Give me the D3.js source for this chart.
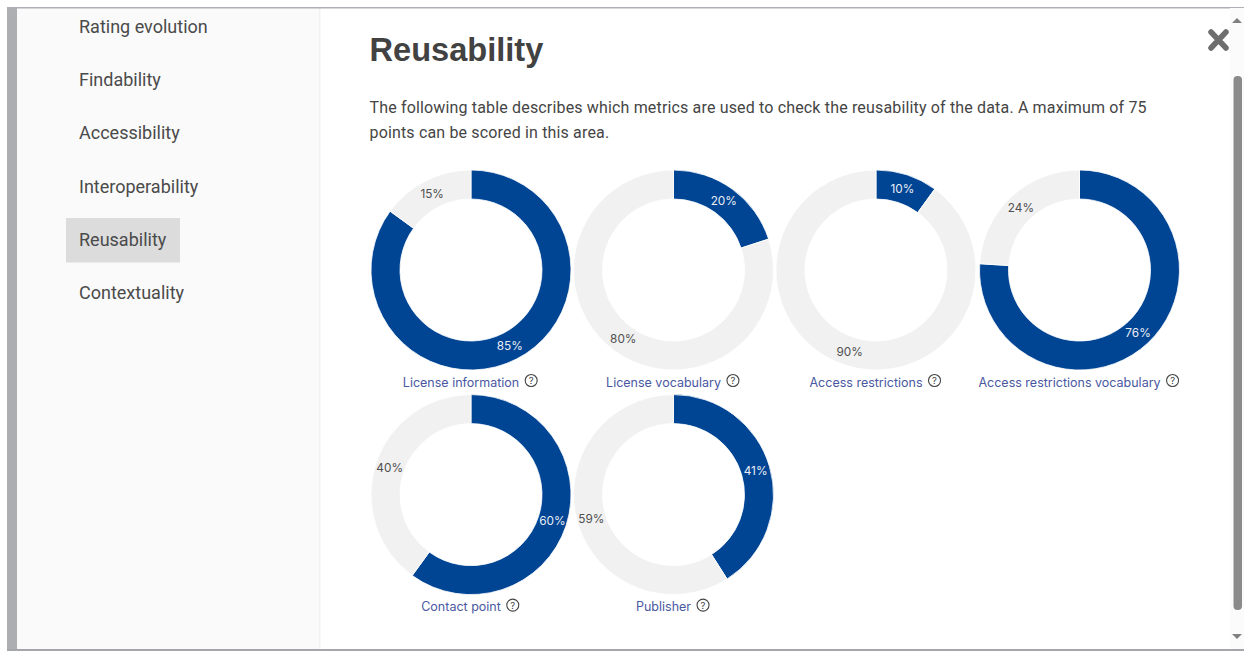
<!DOCTYPE html>
<html><head><meta charset="utf-8">
<script src="https://cdn.jsdelivr.net/npm/d3@7/dist/d3.min.js"></script>
<style>html,body{margin:0;padding:0;background:#fff;overflow:hidden}svg{display:block}</style>
</head><body><svg id="c" width="1244" height="651"></svg>
<script>
const navItems = ["Rating evolution","Findability","Accessibility","Interoperability","Reusability","Contextuality"];
const activeNav = "Reusability";
const titleText = "Reusability";
const introLines = ["The following table describes which metrics are used to check the reusability of the data. A maximum of 75","points can be scored in this area."];
const metrics = ["License information","License vocabulary","Access restrictions","Access restrictions vocabulary","Contact point","Publisher"];
const yesValues = [85,20,10,76,60,41];
const noValues = [15,80,90,24,40,59];

const svg = d3.select("#c");
const BLUE="#004494", GREY="#f1f1f1", TXT="#454545";

svg.append("rect").attr("x",7).attr("y",8).attr("width",1237).attr("height",642).attr("fill","#fff");
svg.append("rect").attr("x",7).attr("y",8).attr("width",10).attr("height",642).attr("fill","#adaeb2");
svg.append("rect").attr("x",17).attr("y",8).attr("width",303).attr("height",641).attr("fill","#fafafa");
svg.append("rect").attr("x",319).attr("y",8).attr("width",1.5).attr("height",641).attr("fill","#f1f1f2");
svg.append("rect").attr("x",7).attr("y",7).attr("width",1237).attr("height",1.5).attr("fill","#aeb0b8");
svg.append("rect").attr("x",7).attr("y",649).attr("width",1237).attr("height",2).attr("fill","#a4a6ac");

svg.append("rect").attr("x",66).attr("y",218).attr("width",114).attr("height",44.5).attr("fill","#dcdcdc");
svg.selectAll("text.nav").data(navItems).join("text").attr("class","nav")
  .attr("x",79).attr("y",(d,i)=>33+i*53.2)
  .attr("font-family","Roboto").attr("font-size",18).attr("fill","#4a4a4a").text(d=>d);

svg.append("text").attr("x",369.5).attr("y",61).attr("font-family","Liberation Sans").attr("font-weight",700)
  .attr("font-size",32.6).attr("fill","#424242").text(titleText);
svg.selectAll("text.intro").data(introLines).join("text").attr("class","intro")
  .attr("x",369.5).attr("y",(d,i)=>113+i*24.5)
  .attr("font-family","Roboto").attr("font-size",16).attr("letter-spacing",0.16).attr("fill",TXT).text(d=>d);

svg.append("path").attr("d","M1211 32L1226 48M1226 32L1211 48").attr("stroke","#6e6e6e").attr("stroke-width",5.5).attr("fill","none").attr("stroke-linecap","round");

svg.append("rect").attr("x",1230).attr("y",8).attr("width",14).attr("height",641).attr("fill","#fbfbfb");
svg.append("path").attr("d","M1232 23L1237 18L1242 23Z").attr("fill","#808080");
svg.append("path").attr("d","M1232 634L1237 639L1242 634Z").attr("fill","#808080");
svg.append("rect").attr("x",1233.5).attr("y",76).attr("width",8.5).attr("height",534).attr("rx",4).attr("fill","#8a8a8a");

const cols = d3.scaleOrdinal().domain([0,1,2,3]).range([471,673.5,876,1079.5]);
const rows = d3.scaleOrdinal().domain([0,1]).range([270,494.6]);
const pie = d3.pie().sort(null);
const arc = d3.arc().innerRadius(71).outerRadius(100);

metrics.forEach((name,i)=>{
  const g = svg.append("g").attr("transform",`translate(${cols(i%4)},${rows(Math.floor(i/4))})`);
  const arcs = pie([yesValues[i],noValues[i]]);
  g.selectAll("path").data(arcs).join("path").attr("d",arc)
    .attr("fill",(d,j)=>j===0?BLUE:GREY).attr("stroke","#fff").attr("stroke-width",0.8);
  g.selectAll("text.pct").data(arcs).join("text").attr("class","pct")
    .attr("transform",d=>`translate(${arc.centroid(d)})`)
    .attr("text-anchor","middle").attr("dy","0.36em")
    .attr("font-family","Inter").attr("font-size",11.8)
    .attr("fill",(d,j)=>j===0?"#e9edf5":"#505050").text(d=>d.value+"%");
  const lab = g.append("text").attr("x",-10).attr("y",116.5).attr("text-anchor","middle")
    .attr("font-family","Inter").attr("font-size",12.5).attr("fill","#4a58a2").text(name);
  const w = lab.node().getComputedTextLength();
  const ix = -10 + w/2 + 12;
  g.append("circle").attr("cx",ix).attr("cy",110.5).attr("r",6).attr("fill","none").attr("stroke","#444").attr("stroke-width",1.1);
  g.append("text").attr("x",ix).attr("y",114).attr("text-anchor","middle").attr("font-family","Inter").attr("font-size",9.5).attr("fill","#444").text("?");
});
</script></body></html>
